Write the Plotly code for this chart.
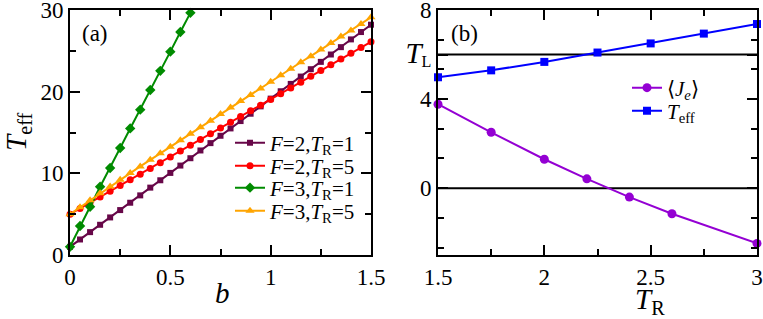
import plotly.graph_objects as go

# ---- Panel (a) data ----
b_vals = [0.0, 0.05, 0.1, 0.15, 0.2, 0.25, 0.3, 0.35, 0.4, 0.45, 0.5, 0.55, 0.6, 0.65, 0.7, 0.75,
          0.8, 0.85, 0.9, 0.95, 1.0, 1.05, 1.1, 1.15, 1.2, 1.25, 1.3, 1.35, 1.4, 1.45, 1.5]
teff_F2_T1 = [1.0, 1.9, 2.8, 3.7, 4.6, 5.5, 6.4, 7.3, 8.25, 9.15, 10.05, 10.95, 11.85, 12.8, 13.7, 14.6,
              15.5, 16.4, 17.3, 18.2, 19.15, 20.05, 20.95, 21.85, 22.75, 23.65, 24.55, 25.45, 26.4, 27.3, 28.2]
teff_F2_T5 = [5.0, 5.7, 6.4, 7.1, 7.8, 8.5, 9.2, 9.9, 10.6, 11.3, 12.0, 12.75, 13.45, 14.15, 14.85, 15.55,
              16.25, 16.95, 17.65, 18.35, 19.05, 19.75, 20.45, 21.15, 21.9, 22.6, 23.3, 24.0, 24.7, 25.4, 26.1]
b_vals_F3_T1 = [0.0, 0.05, 0.1, 0.15, 0.2, 0.25, 0.3, 0.35, 0.4, 0.45, 0.5, 0.55, 0.6]
teff_F3_T1 = [1.0, 3.55, 5.9, 8.35, 10.65, 13.1, 15.5, 17.8, 20.2, 22.55, 24.9, 27.3, 29.65]
teff_F3_T5 = [5.0, 5.85, 6.7, 7.55, 8.4, 9.2, 10.05, 10.85, 11.65, 12.45, 13.25, 14.05, 14.85, 15.65, 16.45, 17.25,
              18.05, 18.85, 19.6, 20.4, 21.2, 22.0, 22.8, 23.6, 24.35, 25.15, 25.95, 26.75, 27.5, 28.3, 29.1]

# ---- Panel (b) data ----
TR_Je = [1.5, 1.75, 2.0, 2.2, 2.4, 2.6, 3.0]
Je_vals = [3.77, 2.51, 1.30, 0.42, -0.40, -1.15, -2.48]
TR_Teff = [1.5, 1.75, 2.0, 2.25, 2.5, 2.75, 3.0]
Teff_vals = [4.98, 5.29, 5.67, 6.09, 6.50, 6.94, 7.37]
T_L = 6.0

FONT = "Liberation Serif"
W, H = 763, 319
TOP, PH = 10, 245  # plot-area top offset and height in pixels


def py2paper(py):
    return 1 - (py - TOP) / PH


fig = go.Figure()


def add(x, y, name, color, symbol, xa, ya, legend, size):
    fig.add_trace(go.Scatter(
        x=x, y=y, name=name, mode="lines+markers",
        line=dict(color=color, width=2),
        marker=dict(color=color, symbol=symbol, size=size, line=dict(width=0)),
        xaxis=xa, yaxis=ya, legend=legend, cliponaxis=False))


add(b_vals, teff_F2_T1, "<i>F</i>=2,<i>T</i><sub>R</sub>=1", "#670748", "square", "x", "y", "legend", 6)
add(b_vals, teff_F2_T5, "<i>F</i>=2,<i>T</i><sub>R</sub>=5", "#ff0000", "circle", "x", "y", "legend2", 7)
add(b_vals_F3_T1, teff_F3_T1, "<i>F</i>=3,<i>T</i><sub>R</sub>=1", "#008b00", "diamond", "x", "y", "legend3", 8)
add(b_vals, teff_F3_T5, "<i>F</i>=3,<i>T</i><sub>R</sub>=5", "#ffa500", "triangle-up", "x", "y", "legend4", 8)

add(TR_Je, Je_vals, "⟨<i>J</i><sub><i>e</i></sub>⟩", "#9400d3", "circle", "x2", "y2", "legend5", 9)
add(TR_Teff, Teff_vals, "<i>T</i><sub>eff</sub>", "#0000ff", "square", "x2", "y2", "legend6", 8)

xa_l = (70 / W, 371 / W)
xa_r = (438 / W, 757 / W)

minor_common = dict(ticks="inside", ticklen=6, tickwidth=1.5, tickcolor="black")
axis_common = dict(
    showline=True, linecolor="black", linewidth=2, mirror="allticks",
    ticks="inside", ticklen=10, tickwidth=1.5, tickcolor="black",
    showgrid=False, zeroline=False, automargin=False, ticklabeloverflow="allow",
    tickfont=dict(family=FONT, size=23, color="black"),
)


def leg(x_px, y_px):
    return dict(x=x_px / W, xanchor="left", y=py2paper(y_px), yanchor="middle",
                font=dict(family=FONT, size=21, color="black"),
                bgcolor="rgba(0,0,0,0)", itemwidth=30)


fig.update_layout(
    width=W, height=H,
    margin=dict(l=0, r=0, t=TOP, b=H - TOP - PH),
    paper_bgcolor="white", plot_bgcolor="white",
    font=dict(family=FONT, color="black"),
    xaxis=dict(domain=xa_l, range=[0, 1.5], tickvals=[0, 0.5, 1, 1.5], ticktext=["0", "0.5", "1", "1.5"],
               minor=dict(dtick=0.25, tick0=0, **minor_common), anchor="y", **axis_common),
    yaxis=dict(domain=[0, 1], range=[0, 30], tickvals=[0, 10, 20, 30],
               minor=dict(dtick=5, tick0=0, **minor_common), anchor="x", **axis_common),
    xaxis2=dict(domain=xa_r, range=[1.5, 3], tickvals=[1.5, 2, 2.5, 3], ticktext=["1.5", "2", "2.5", "3"],
                minor=dict(dtick=0.25, tick0=1.5, **minor_common), anchor="y2", **axis_common),
    yaxis2=dict(domain=[0, 1], range=[-3, 8], tickvals=[0, 4, T_L, 8],
                ticktext=["0", "4", "<span style='font-size:29px'><i>T</i></span><sub>L</sub>", "8"],
                minor=dict(dtick=4 / 3, tick0=0, **minor_common), anchor="x2", **axis_common),
    legend=leg(230, 143),
    legend2=leg(230, 166),
    legend3=leg(230, 188),
    legend4=leg(230, 211),
    legend5=leg(627, 88),
    legend6=leg(627, 111),
    showlegend=True,
)

# horizontal reference lines in panel (b)
for yv in [0, T_L]:
    fig.add_shape(type="line", xref="x2 domain", yref="y2", x0=0, x1=1, y0=yv, y1=yv,
                  line=dict(color="black", width=2), layer="below")

ann = [
    dict(text="(a)", x=95 / W, y=py2paper(33), size=23),
    dict(text="(b)", x=464 / W, y=py2paper(33), size=23),
    dict(text="<i>b</i>", x=222 / W, y=py2paper(293), size=29),
    dict(text="<i>T</i><sub>R</sub>", x=650 / W, y=py2paper(301), size=29),
]
for a in ann:
    fig.add_annotation(text=a["text"], x=a["x"], y=a["y"], xref="paper", yref="paper",
                       xanchor="center", yanchor="middle", showarrow=False,
                       font=dict(family=FONT, size=a["size"], color="black"))
fig.add_annotation(text="<i>T</i><sub>eff</sub>", x=18 / W, y=py2paper(132), xref="paper", yref="paper",
                   textangle=-90, showarrow=False, xanchor="center", yanchor="middle",
                   font=dict(family=FONT, size=29, color="black"))

fig.write_html("out.html", config={"displayModeBar": False},
               post_script="document.body.style.margin='0';document.body.style.overflow='hidden';")
